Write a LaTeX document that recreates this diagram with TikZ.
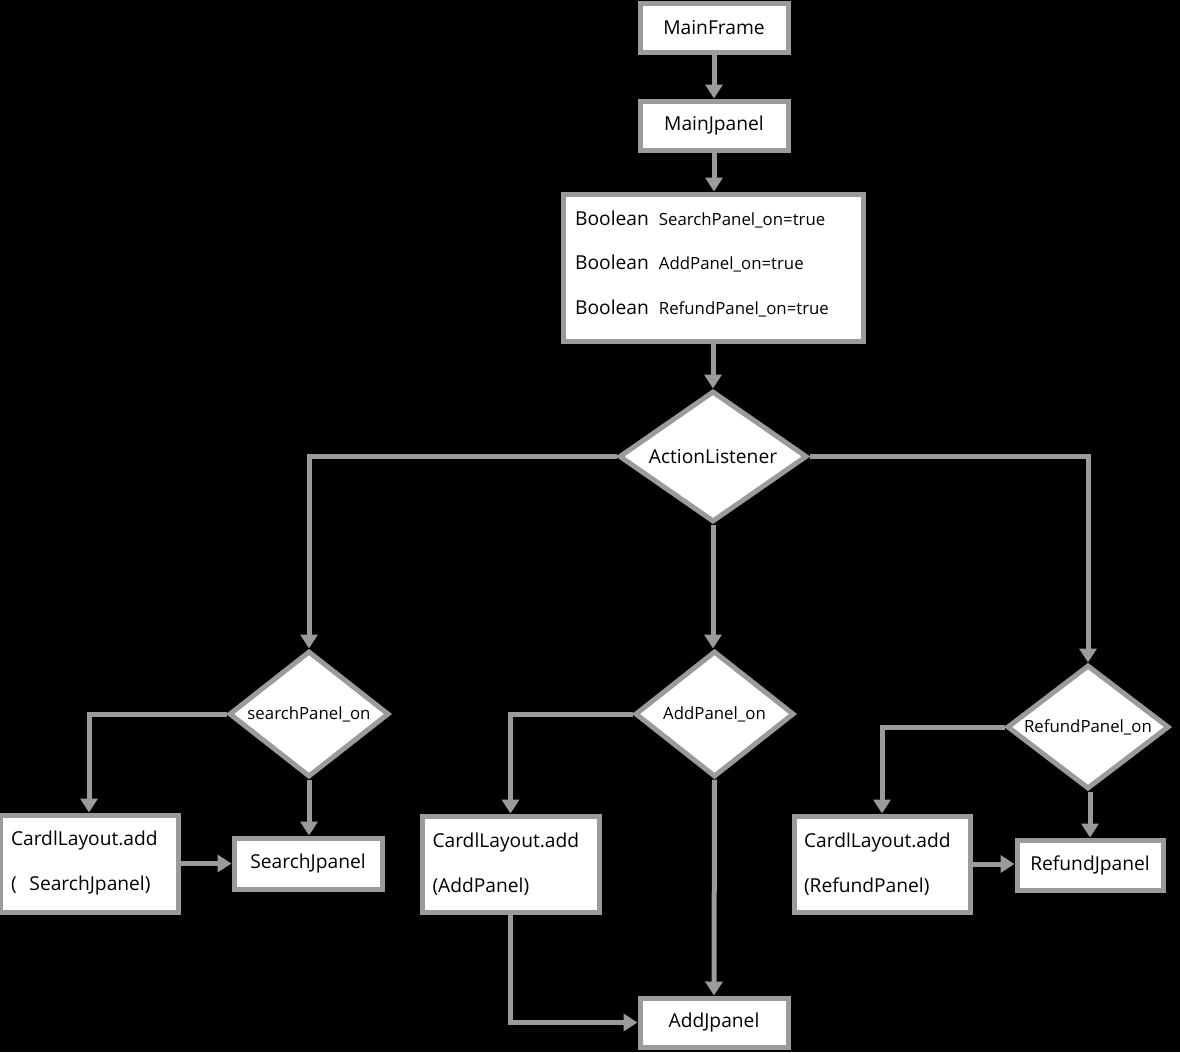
\documentclass[tikz,border=0pt]{standalone}
\usepackage{fontspec}
\setmainfont{Open Sans}
\usetikzlibrary{shapes.geometric,arrows.meta}
\definecolor{edge}{RGB}{155,155,155}
\newcommand{\bigf}{\fontsize{19.2}{22}\selectfont}
\newcommand{\smallf}{\fontsize{16.8}{20}\selectfont}
\tikzset{
  box/.style={draw=edge, fill=white, line width=5pt, inner sep=0pt, font=\bigf},
  cardbox/.style={box, align=left, text width=156pt, font=\fontsize{19.2}{45}\selectfont},
  dia/.style={draw=edge, fill=white, line width=5pt, shape=diamond, inner sep=0pt, font=\smallf},
  arr/.style={draw=edge, line width=5pt, -{Triangle[width=17pt,length=14pt]}},
}
\begin{document}
\begin{tikzpicture}[x=1pt,y=-1pt]
\useasboundingbox[fill=black] (0,0) rectangle (1180,1052);
% boxes
\node[box, minimum width=148pt, minimum height=49pt] (mf) at (714,27.5) {MainFrame};
\node[box, minimum width=148pt, minimum height=49pt] (mj) at (714,125.5) {MainJpanel};
\node[box, minimum width=300pt, minimum height=147pt] (bo) at (713,267.5) {};
\node[anchor=west, font=\bigf, inner sep=0pt] (b1) at (575,219) {Boolean\ \ {\smallf SearchPanel\_on=true}};
\node[anchor=west, font=\bigf, inner sep=0pt] (b2) at (575,263) {Boolean\ \ {\smallf AddPanel\_on=true}};
\node[anchor=west, font=\bigf, inner sep=0pt] (b3) at (575,308) {Boolean\ \ {\smallf RefundPanel\_on=true}};
% diamonds
\node[dia, shape aspect=1.43, minimum width=188pt, minimum height=131pt, font=\bigf] (al) at (713,456.5) {ActionListener};
\node[dia, shape aspect=1.27, minimum width=160pt, minimum height=126pt] (sp) at (309,714) {searchPanel\_on};
\node[dia, shape aspect=1.27, minimum width=159pt, minimum height=126pt] (ap) at (714.5,714) {AddPanel\_on};
\node[dia, shape aspect=1.3, minimum width=162pt, minimum height=124pt] (rp) at (1088,727) {RefundPanel\_on};
% lower boxes
\node[cardbox, minimum width=178pt, minimum height=97pt] (c1) at (89,863.5) {CardlLayout.add\\(\ \ SearchJpanel)};
\node[box, minimum width=148pt, minimum height=51pt] (sj) at (308,863.5) {SearchJpanel};
\node[cardbox, minimum width=177pt, minimum height=96pt] (c2) at (510.5,864) {CardlLayout.add\\(AddPanel)};
\node[box, minimum width=148pt, minimum height=49pt] (aj) at (714,1022.5) {AddJpanel};
\node[cardbox, minimum width=176pt, minimum height=96pt] (c3) at (882,864) {CardlLayout.add\\(RefundPanel)};
\node[box, minimum width=146pt, minimum height=50pt] (rj) at (1090,865) {RefundJpanel};
% connectors
\draw[arr] (mf) -- (mj);
\draw[arr] (mj.south) -- (mj.south |- bo.north);
\draw[arr] (bo.south -| al.north) -- (al.north);
\draw[arr] (al.west) -| (sp.north);
\draw[arr] (al.south) -- (al.south |- ap.north);
\draw[arr] (al.east) -| (rp.north);
\draw[arr] (sp.west) -| (c1.north);
\draw[arr] (sp.south) -- (sp.south |- sj.north);
\draw[arr] (c1.east) -- (sj.west);
\draw[arr] (ap.west) -| (c2.north);
\draw[arr] (ap.south) -- (aj.north);
\draw[arr] (c2.south) |- (aj.west);
\draw[arr] (rp.west) -| (c3.north);
\draw[arr] (rp.south -| rj.north) -- (rj.north);
\draw[arr] (c3.east) -- (c3.east -| rj.west);
\end{tikzpicture}
\end{document}
